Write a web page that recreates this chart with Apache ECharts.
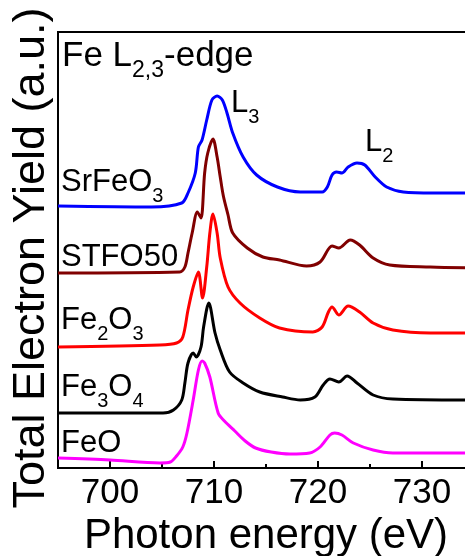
<!DOCTYPE html>
<html>
<head>
<meta charset="utf-8">
<script src="https://cdn.jsdelivr.net/npm/echarts@6/dist/echarts.min.js"></script>
<style>
    html, body { margin: 0; padding: 0; background: #fff; }
    #xas { width: 465px; height: 556px; }
</style>
</head>
<body>
<div id="xas"></div>
<script>
// Fe L2,3-edge TEY spectra, stacked with vertical offsets (a.u.)
const majorTicks = [700, 710, 720, 730];
const minorTicks = [705, 715, 725];

// [photon energy (eV), intensity incl. offset]
const srfeo3 = [[695, 262], [704, 261], [706.9, 265], [707.5, 275], [708.2, 295], [708.5, 321], [708.85, 328],
    [709.3, 348], [709.8, 368], [710.3, 372], [710.8, 368], [711.25, 355], [711.8, 335], [712.8, 311],
    [714.1, 293], [716.1, 281], [718.3, 276], [720.4, 276], [720.9, 281], [721.35, 293], [721.8, 296],
    [722.3, 295], [722.9, 301], [723.75, 305], [724.5, 303], [725.5, 291], [726.6, 281], [728.2, 276],
    [731.1, 275], [735, 275]];
const stfo50 = [[695, 195], [706.7, 196], [707.2, 201], [707.5, 215], [707.9, 235], [708.4, 256], [708.75, 250],
    [709.1, 295], [709.4, 315], [709.9, 329], [710.3, 311], [710.6, 291], [710.9, 272], [711.35, 253],
    [711.8, 235], [713.2, 220], [714.7, 211], [716.3, 208], [718.9, 202], [720.2, 206], [721.35, 222],
    [722.0, 220], [723.1, 228], [724.0, 223], [725.3, 210], [726.9, 203], [730.8, 201], [735, 200]];
const fe2o3 = [[695, 121], [704.8, 123], [706.4, 125], [707.0, 131], [707.5, 158], [708.0, 181], [708.5, 196],
    [708.9, 170], [709.3, 201], [709.6, 235], [709.9, 254], [710.3, 235], [710.6, 210], [711.35, 181],
    [712.5, 165], [714.4, 150], [716.3, 140], [719.5, 136], [720.4, 141], [721.0, 156], [721.35, 161],
    [722.0, 153], [722.9, 162], [724.0, 156], [725.3, 145], [727.2, 138], [730.8, 135], [735, 135]];
const fe3o4 = [[695, 55], [705.1, 55], [706.1, 58], [706.9, 68], [707.2, 85], [707.5, 105], [708.0, 115],
    [708.3, 111], [708.75, 121], [709.0, 141], [709.5, 165], [710.1, 135], [710.6, 118], [711.5, 96],
    [712.8, 85], [714.4, 76], [716.6, 71], [718.3, 68], [719.7, 71], [720.5, 83], [721.15, 89],
    [722.0, 86], [722.8, 92], [723.75, 85], [725.3, 73], [727.2, 69], [735, 68]];
const feo = [[695, 10], [700, 8], [704.8, 5], [705.8, 6], [706.4, 12], [707.0, 21], [707.4, 35], [708.0, 68],
    [708.5, 98], [708.85, 107], [709.1, 105], [709.6, 91], [710.4, 55], [711.0, 47], [712.0, 37],
    [713.0, 27], [714.0, 20], [715.5, 16], [717.3, 14], [719.2, 15], [720.2, 21], [721.15, 33],
    [721.6, 35], [722.3, 33], [723.4, 25], [725.3, 18], [727.2, 15], [735, 15]];

const sampleNames = ['{n|SrFeO}{s|3}', '{n|STFO50}', '{n|Fe}{s|2}{n|O}{s|3}', '{n|Fe}{s|3}{n|O}{s|4}', '{n|FeO}'];
const sampleColors = ['#0000ff', '#800000', '#ff0000', '#000000', '#ff00ff'];
const sampleData = [srfeo3, stfo50, fe2o3, fe3o4, feo];

const FONT = '"Liberation Sans", Arial, Helvetica, sans-serif';

// rich text: n = normal, s = subscript (pushed down by top padding)
const rich = {
    n: {fontSize: 31, fontFamily: FONT, color: '#000'},
    s: {fontSize: 20, fontFamily: FONT, color: '#000', padding: [28, 0, 0, 0]}
};
const titleRich = {
    n: {fontSize: 35, fontFamily: FONT, color: '#000'},
    s: {fontSize: 23, fontFamily: FONT, color: '#000', padding: [30, 0, 0, 0]}
};

function label(text, x, y, extraRich) {
    return {
        type: 'text',
        x: x,
        y: y,
        z: 100,
        style: {
            text: text,
            rich: extraRich || rich,
            align: 'left',
            verticalAlign: 'middle'
        }
    };
}

const chart = echarts.init(document.getElementById('xas'));

chart.setOption({
    animation: false,
    backgroundColor: '#fff',
    grid: {
        left: 58,
        top: 32,
        right: -9,
        bottom: 88,
        show: true,
        borderColor: '#000',
        borderWidth: 2,
        outerBoundsMode: 'none'
    },
    xAxis: [
        {
            type: 'value',
            min: 695,
            max: 735,
            position: 'bottom',
            name: 'Photon energy (eV)',
            nameLocation: 'middle',
            nameGap: 42,
            nameTextStyle: {fontSize: 42, fontFamily: FONT, color: '#000'},
            axisLine: {show: true, lineStyle: {color: '#000', width: 2}},
            axisTick: {show: true, inside: true, length: 7, customValues: majorTicks,
                lineStyle: {color: '#000', width: 2}},
            axisLabel: {show: true, customValues: majorTicks, margin: 8, fontSize: 35,
                fontFamily: FONT, color: '#000'},
            splitLine: {show: false}
        },
        {
            type: 'value',
            min: 695,
            max: 735,
            position: 'bottom',
            axisLine: {show: false},
            axisTick: {show: true, inside: true, length: 4, customValues: minorTicks,
                lineStyle: {color: '#000', width: 2}},
            axisLabel: {show: false},
            splitLine: {show: false}
        }
    ],
    yAxis: {
        type: 'value',
        min: 0,
        max: 436,
        axisLine: {show: true, lineStyle: {color: '#000', width: 2}},
        axisTick: {show: false},
        axisLabel: {show: false},
        splitLine: {show: false}
    },
    graphic: [
        {
            type: 'text',
            x: 32,
            y: 258,
            rotation: Math.PI / 2,
            style: {
                text: 'Total Electron Yield (a.u.)',
                font: '45px ' + FONT,
                fill: '#000',
                align: 'center',
                verticalAlign: 'middle'
            }
        },
        label('{n|Fe L}{s|2,3}{n|-edge}', 62, 56, titleRich),
        label('{n|L}{s|3}', 231, 103),
        label('{n|L}{s|2}', 365, 142),
        label(sampleNames[0], 61, 182),
        label(sampleNames[1], 61, 257),
        label(sampleNames[2], 61, 320),
        label(sampleNames[3], 61, 387),
        label(sampleNames[4], 61, 443)
    ],
    series: sampleData.map((d, i) => ({
        name: sampleNames[i],
        type: 'line',
        xAxisIndex: 0,
        data: d,
        showSymbol: false,
        smooth: 0.3,
        lineStyle: {color: sampleColors[i], width: 3},
        itemStyle: {color: sampleColors[i]}
    }))
});

window.addEventListener('resize', () => {
    chart.resize();
});
</script>
</body>
</html>
